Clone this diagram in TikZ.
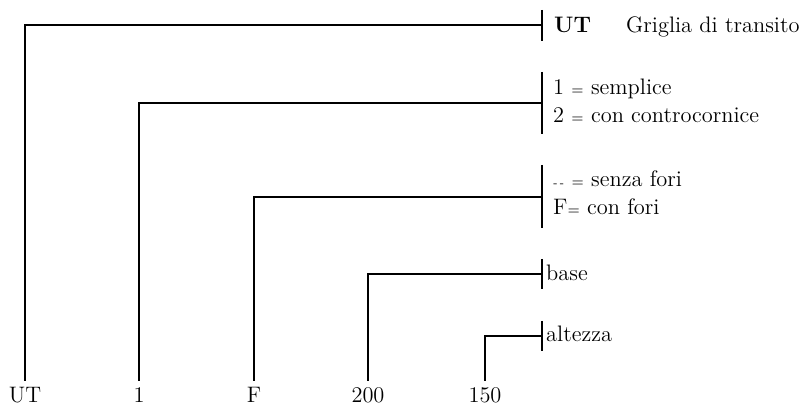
\documentclass[tikz,border=0pt]{standalone}
\usepackage{tikz}

\begin{document}
\begin{tikzpicture}[x=0.5pt,y=-0.5pt,
  line width=1.2pt,
  every node/.style = {inner sep=0pt, font=\fontsize{11.2}{13}\selectfont},
  code/.style = {anchor=base, text height=7.5pt, text depth=0pt},
  desc/.style = {anchor=base west},
  eq/.style = {font=\scriptsize}]
  \useasboundingbox (0,0) rectangle (804,405);

  % codici in basso
  \node[code] (cUT) at (25,403) {UT};
  \node[code] (cTipo) at (139,403) {1};
  \node[code] (cFori) at (254,403) {F};
  \node[code] (cBase) at (368,403) {200};
  \node[code] (cAlt) at (485,403) {150};

  % tacche a destra
  \coordinate (kUT) at (542,25);
  \coordinate (kTipo) at (542,103);
  \coordinate (kFori) at (542,197);
  \coordinate (kBase) at (542,274);
  \coordinate (kAlt) at (542,336);
  \draw ([yshift=7.5pt]kUT) -- ([yshift=-8pt]kUT);
  \draw ([yshift=15.5pt]kTipo) -- ([yshift=-15.5pt]kTipo);
  \draw ([yshift=16pt]kFori) -- ([yshift=-15.5pt]kFori);
  \draw ([yshift=7.5pt]kBase) -- ([yshift=-7.5pt]kBase);
  \draw ([yshift=7.5pt]kAlt) -- ([yshift=-7.5pt]kAlt);

  % collegamenti
  \draw ([yshift=3pt]cUT.north) |- (kUT);
  \draw ([yshift=3pt]cTipo.north) |- (kTipo);
  \draw ([yshift=3pt]cFori.north) |- (kFori);
  \draw ([yshift=3pt]cBase.north) |- (kBase);
  \draw ([yshift=3pt]cAlt.north) |- (kAlt);

  % descrizioni
  \node[desc] (dUT) at (553,33) {\textbf{UT}};
  \node[desc] (dGriglia) at (625,33) {Griglia di transito};
  \node[desc] (dTipo1) at (552,95) {1 {\scriptsize=} semplice};
  \node[desc] (dTipo2) at (552,123) {2 {\scriptsize=} con controcornice};
  \node[desc] (dFori1) at (552,187) {{\tiny -\,-} {\scriptsize=} senza fori};
  \node[desc] (dFori2) at (552,215) {F{\scriptsize=} con fori};
  \node[desc] (dBase) at (545,281) {base};
  \node[desc] (dAlt) at (545,342) {altezza};
\end{tikzpicture}
\end{document}
